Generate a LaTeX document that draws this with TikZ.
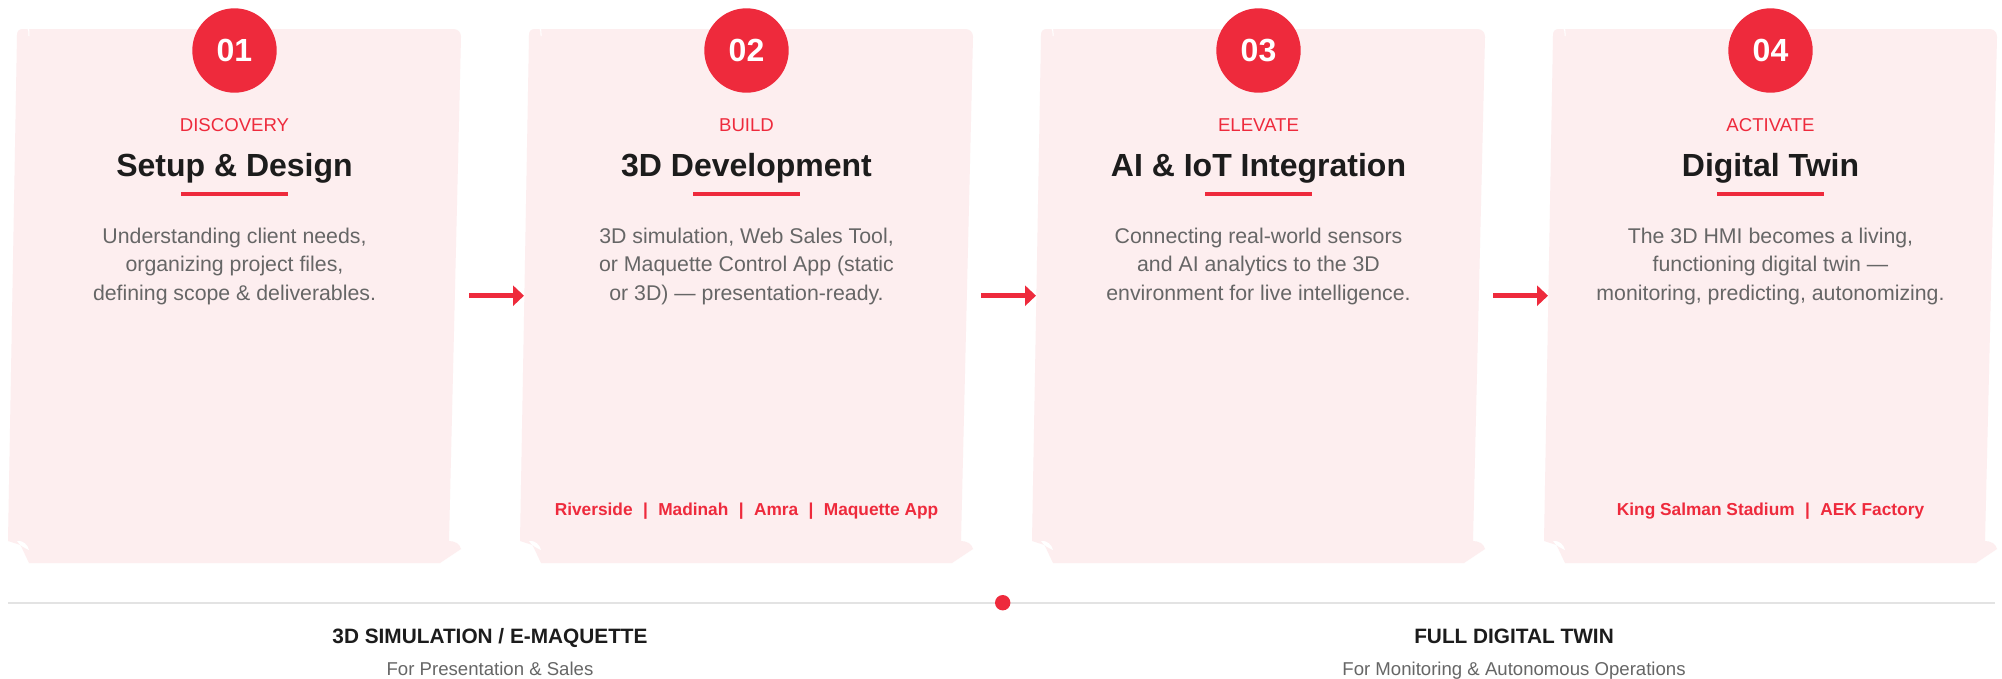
\documentclass[tikz,border=0pt]{standalone}
\usepackage{fontspec}
\setmainfont{Liberation Sans}
\usetikzlibrary{arrows.meta}
\definecolor{brand}{HTML}{EE2A3C}
\definecolor{cardbg}{HTML}{FDEEEF}
\definecolor{ink}{HTML}{1C1C1C}
\definecolor{muted}{HTML}{666666}
\definecolor{rulegray}{HTML}{E3E3E3}
\tikzset{
  numdisc/.style={circle, fill=brand, minimum size=84.4pt, inner sep=0pt, text=white,
    font=\fontsize{32}{36}\selectfont\bfseries},
  eyebrow/.style={anchor=base, inner sep=0pt, text=brand, font=\fontsize{18.6}{22}\selectfont},
  steptitle/.style={anchor=base, inner sep=0pt, text=ink, font=\fontsize{32}{38}\selectfont\bfseries},
  accentbar/.style={fill=brand, minimum width=107pt, minimum height=4pt, inner sep=0pt},
  desc/.style={anchor=base, inner sep=0pt, text=muted, font=\fontsize{21.3}{28.5}\selectfont},
  tags/.style={anchor=base, inner sep=0pt, text=brand, font=\fontsize{17.3}{21}\selectfont\bfseries},
  phase/.style={anchor=base, inner sep=0pt, text=ink, font=\fontsize{20.8}{25}\selectfont\bfseries},
  phasesub/.style={anchor=base, inner sep=0pt, text=muted, font=\fontsize{18.6}{22}\selectfont},
  flow/.style={draw=brand, line width=4.5pt, -{Triangle[length=11pt,width=20pt]}},
  timeline/.style={draw=rulegray, line width=2pt},
}
\newcommand\tagsep{\hspace{0.6em}|\hspace{0.6em}}
\newcommand\stagecard[7]{%
  \begin{scope}[shift={(#1*512,0)}]
    \fill[cardbg] (17,35) .. controls (17,31) and (19,29) .. (23,29) -- (453,29)
      .. controls (458,29) and (461,32) .. (461,37) -- (449,541)
      .. controls (455,541) and (460,544) .. (461,549) -- (440,563) -- (29,563)
      -- (20.5,545) -- (8,541) -- cycle;
    \fill[white] (17,541) .. controls (23,540) and (28,545) .. (29,550)
      .. controls (25,548) and (20,546) .. (17,541) -- cycle;
    \fill[white] (27.5,29) .. controls (28.5,31) .. (28.5,36) -- (29.5,36)
      .. controls (29.5,31) .. (29,29) -- cycle;
    \node[numdisc] (num#1) at (234.5,50.5) {#2};
    \node[eyebrow] (eb#1) at (234.5,131) {#3};
    \node[steptitle] (ti#1) at (234.5,176.7) {#4};
    \node[accentbar] (ul#1) at (234.5,194.3) {};
    \node[desc] (de#1a) at (234.5,243.3) {#5};
    \node[desc] (de#1b) at (234.5,271.7) {#6};
    \node[desc] (de#1c) at (234.5,300) {#7};
  \end{scope}}
\begin{document}
\begin{tikzpicture}[x=1pt,y=-1pt]
  \useasboundingbox[fill=white] (0,0) rectangle (2002,678);
  \stagecard{0}{01}{DISCOVERY}{Setup \& Design}{Understanding client needs,}{organizing project files,}{defining scope \& deliverables.}
  \stagecard{1}{02}{BUILD}{3D Development}{3D simulation, Web Sales Tool,}{or Maquette Control App (static}{or 3D) — presentation-ready.}
  \stagecard{2}{03}{ELEVATE}{AI \& IoT Integration}{Connecting real-world sensors}{and AI analytics to the 3D}{environment for live intelligence.}
  \stagecard{3}{04}{ACTIVATE}{Digital Twin}{The 3D HMI becomes a living,}{functioning digital twin —}{monitoring, predicting, autonomizing.}
  \node[tags] (tg1) at (746.5,515.3) {Riverside\tagsep Madinah\tagsep Amra\tagsep Maquette App};
  \node[tags] (tg3) at (1770.5,515.3) {King Salman Stadium\tagsep AEK Factory};
  % flow arrows
  \coordinate (a1s) at (469,295.7); \coordinate (a1e) at (524,295.7);
  \coordinate (a2s) at (981,295.7); \coordinate (a2e) at (1036,295.7);
  \coordinate (a3s) at (1493,295.7); \coordinate (a3e) at (1548,295.7);
  \draw[flow] (a1s) -- (a1e);
  \draw[flow] (a2s) -- (a2e);
  \draw[flow] (a3s) -- (a3e);
  % timeline
  \coordinate (tlL) at (8,602.7); \coordinate (tlR) at (1995,602.7);
  \draw[timeline] (tlL) -- (tlR);
  \node[circle, fill=brand, minimum size=15.4pt, inner sep=0pt] (dot) at (1002.7,602.7) {};
  \node[phase] (ph1) at (490,643.3) {3D SIMULATION / E-MAQUETTE};
  \node[phasesub] (ps1) at (490,675) {For Presentation \& Sales};
  \node[phase] (ph2) at (1514,643.3) {FULL DIGITAL TWIN};
  \node[phasesub] (ps2) at (1514,675) {For Monitoring \& Autonomous Operations};
\end{tikzpicture}
\end{document}
